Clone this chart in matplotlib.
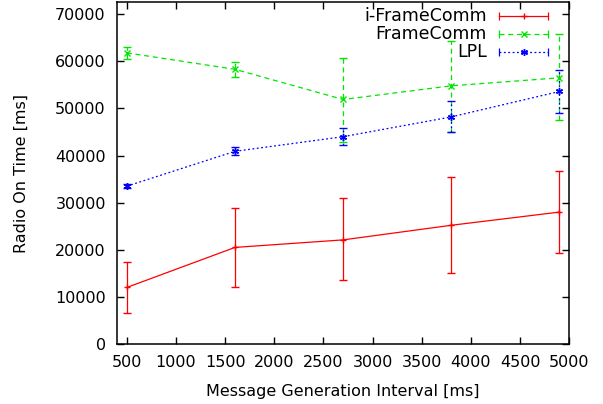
#!/usr/bin/env python3
"""Radio on-time vs message generation interval for i-FrameComm, FrameComm and LPL."""

import matplotlib

matplotlib.use("Agg")
import matplotlib.pyplot as plt

plt.rcParams["font.family"] = ["DejaVu Sans"]

interval_ms = [500, 1600, 2700, 3800, 4900]

iframe_mean = [12000, 20500, 22100, 25200, 28000]
iframe_low = [6600, 12100, 13600, 15000, 19400]
iframe_high = [17400, 28900, 31000, 35400, 36800]

frame_mean = [61800, 58300, 51900, 54800, 56500]
frame_low = [60400, 56600, 42800, 45000, 47500]
frame_high = [63100, 59900, 60800, 64300, 65900]

lpl_mean = [33500, 40900, 44000, 48200, 53600]
lpl_low = [33100, 40100, 42300, 45000, 49100]
lpl_high = [34000, 41800, 45800, 51600, 58200]

series = [
    ("i-FrameComm", iframe_mean, iframe_low, iframe_high, "#ff0000", "-", "+"),
    ("FrameComm", frame_mean, frame_low, frame_high, "#00e600", (0, (4, 3)), "x"),
    ("LPL", lpl_mean, lpl_low, lpl_high, "#0000ff", (0, (1.5, 2)), (6, 2, 0)),
]

fig = plt.figure(figsize=(6.03, 4.04), dpi=100)
ax = fig.add_axes([0.194, 0.1485, 0.75, 0.8455])

for label, mean, low, high, color, ls, marker in series:
    yerr = [[m - lo for m, lo in zip(mean, low)], [hi - m for m, hi in zip(mean, high)]]
    cont = ax.errorbar(interval_ms, mean, yerr=yerr, color=color, lw=0.9, ls=ls,
                       marker=marker, ms=5, mew=1.0, capsize=3, capthick=0.9,
                       elinewidth=0.9)
    for bar in cont[2]:
        bar.set_linestyle(ls)

# gnuplot-style key: text right-aligned, sample line with end caps
key_rows = [0.96, 0.907, 0.855]
for (label, mean, low, high, color, ls, marker), ky in zip(series, key_rows):
    ax.text(0.818, ky, label, transform=ax.transAxes, ha="right", va="center",
            fontsize=12.5)
    ax.plot([0.845, 0.954], [ky, ky], transform=ax.transAxes, color=color,
            lw=0.9, ls=ls)
    ax.plot([0.8995], [ky], transform=ax.transAxes, color=color, marker=marker,
            ms=5, mew=1.0)
    ax.plot([0.845, 0.954], [ky, ky], transform=ax.transAxes, color=color,
            ls="none", marker="|", ms=6, mew=0.9)

ax.set_xlim(400, 5000)
ax.set_ylim(0, 72500)
ax.set_xticks(range(500, 5001, 500))
ax.set_yticks(range(0, 70001, 10000))
ax.tick_params(direction="in", top=True, right=True, labelsize=11.5, length=5,
               width=1.0)
ax.tick_params(axis="x", pad=8)
ax.tick_params(axis="y", pad=8)
for s in ax.spines.values():
    s.set_linewidth(1.1)

ax.set_xlabel("Message Generation Interval [ms]", fontsize=11.5, labelpad=10)
ax.set_ylabel("Radio On Time [ms]", fontsize=11.5, labelpad=19)

fig.savefig("out.png", dpi=100)
